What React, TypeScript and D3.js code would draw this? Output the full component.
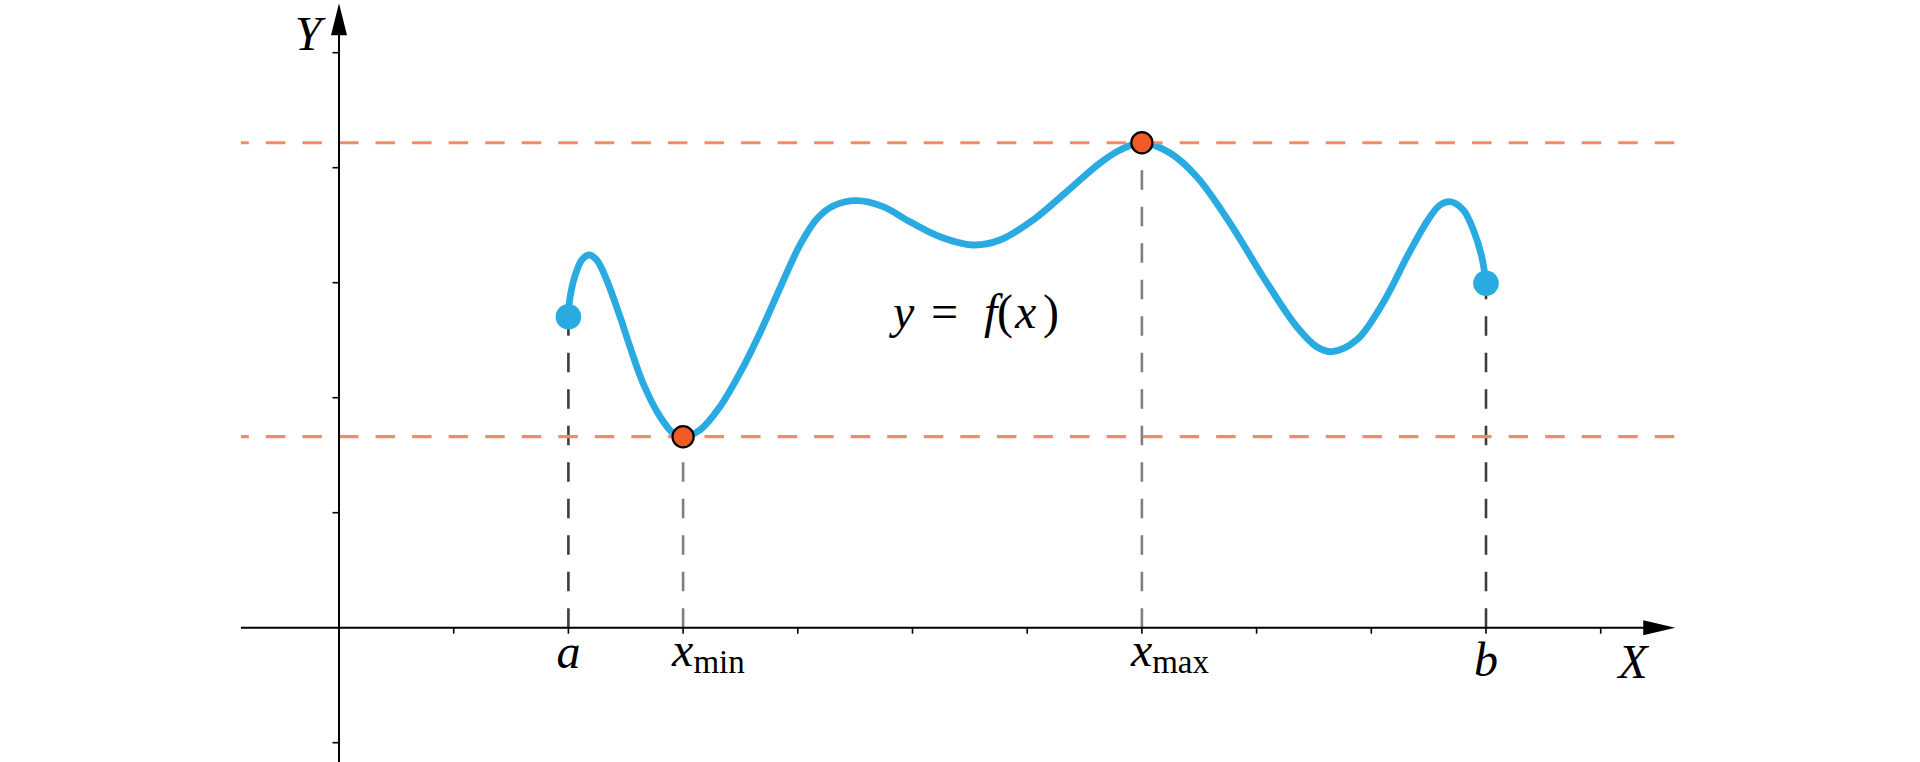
import React from 'react';
import * as d3 from 'd3';

// ---- data (in the chart's own units) ----
const curveX = [2.0, 2.011, 2.055, 2.116, 2.18, 2.247, 2.334, 2.45, 2.537, 2.65, 2.799, 2.912, 3.0, 3.147, 3.322, 3.496, 3.67, 3.845, 4.019, 4.165, 4.307, 4.514, 4.743, 4.978, 5.24, 5.527, 5.763, 6.051, 6.35, 6.635, 6.809, 7.0, 7.245, 7.478, 7.768, 8.056, 8.35, 8.524, 8.655, 8.873, 9.102, 9.32, 9.494, 9.599, 9.692, 9.802, 9.89, 9.963, 10.0];
const curveY = [2.704, 2.85, 3.052, 3.197, 3.241, 3.197, 3.023, 2.704, 2.443, 2.128, 1.835, 1.693, 1.661, 1.719, 1.922, 2.215, 2.563, 2.954, 3.328, 3.554, 3.667, 3.713, 3.661, 3.53, 3.4, 3.328, 3.371, 3.545, 3.797, 4.041, 4.154, 4.217, 4.128, 3.922, 3.519, 3.052, 2.617, 2.443, 2.4, 2.502, 2.823, 3.241, 3.545, 3.676, 3.704, 3.632, 3.458, 3.226, 2.995];

const endpointX = [2, 10];
const endpointY = [2.704, 2.995];
const endpointLabels = ['a', 'b'];

const extremaX = [3, 7];
const extremaY = [1.661, 4.217];
const extremaSubs = ['min', 'max'];

const xTicks = [1, 2, 3, 4, 5, 6, 7, 8, 9, 10, 11];
const yTicks = [-1, 1, 2, 3, 4, 5];
const xAxisExtent = [-0.855, 11.65];
const yAxisExtent = [-1.2, 5.43];
const axisNames = ['X', 'Y'];
const formulaParts = [
  { t: 'y', italic: true },
  { t: '=', italic: false },
  { t: 'f', italic: true },
  { t: '(', italic: false },
  { t: 'x', italic: true },
  { t: ')', italic: false },
];

// ---- styles / layout ----
const W = 1920;
const H = 762;
const BLUE = '#29abe2';
const ORANGE = '#f15a24';
const ORANGE_LINE = '#f58b66';
const FONT = '"Liberation Serif", "Times New Roman", serif';

export default function App() {
  const x = d3.scaleLinear().domain([0, 10]).range([339, 1486]);
  const y = d3.scaleLinear().domain([0, 5]).range([627.7, 52.7]);

  const pts: [number, number][] = curveX.map((v, i) => [v, curveY[i]]);
  const line = d3
    .line<[number, number]>()
    .x((d) => x(d[0]))
    .y((d) => y(d[1]))
    .curve(d3.curveCatmullRom.alpha(0.5));

  const x0 = x(xAxisExtent[0]);
  const x1 = x(xAxisExtent[1]);
  const yTop = y(yAxisExtent[1]);
  const y0 = y(0);
  const ox = x(0);

  const labelTop = 645;
  const arrowLen = 32;

  const formulaOffsets = [0, 38, 91, 104, 122, 150];

  return (
    <svg
      width={W}
      height={H}
      style={{ position: 'absolute', left: 0, top: 0, display: 'block', background: '#fff' }}
      fontFamily={FONT}
    >
      {/* vertical dashed lines for a, b */}
      {endpointX.map((v, i) => (
        <line
          key={'ev' + i}
          x1={x(v)}
          x2={x(v)}
          y1={y0}
          y2={y(endpointY[i])}
          stroke="#3d3d3d"
          strokeWidth={2.6}
          strokeDasharray="19.5 17"
        />
      ))}
      {/* vertical dashed lines for extrema */}
      {extremaX.map((v, i) => (
        <line
          key={'xv' + i}
          x1={x(v)}
          x2={x(v)}
          y1={y0}
          y2={y(extremaY[i])}
          stroke="#7f7f7f"
          strokeWidth={2.6}
          strokeDasharray="19.5 17"
        />
      ))}

      {/* curve */}
      <path d={line(pts) || ''} fill="none" stroke={BLUE} strokeWidth={6.8} strokeLinecap="round" strokeLinejoin="round" />

      {/* horizontal dashed lines */}
      {extremaY.map((v, i) => (
        <line
          key={'hl' + i}
          x1={x0}
          x2={x1}
          y1={y(v)}
          y2={y(v)}
          stroke={ORANGE_LINE}
          strokeWidth={3.2}
          strokeDasharray="19.5 17.05"
          strokeDashoffset={11.6}
        />
      ))}

      {/* axes */}
      <line x1={x0} x2={x1 - arrowLen + 2} y1={y0} y2={y0} stroke="#000" strokeWidth={2} />
      <path d={`M${x1},${y0} L${x1 - arrowLen},${y0 - 7.5} L${x1 - arrowLen},${y0 + 7.5} Z`} fill="#000" />
      <line x1={ox} x2={ox} y1={H} y2={yTop + arrowLen - 2} stroke="#000" strokeWidth={2} />
      <path d={`M${ox},${yTop} L${ox - 8},${yTop + arrowLen} L${ox + 8},${yTop + arrowLen} Z`} fill="#000" />

      {xTicks.map((t) => (
        <line key={'xt' + t} x1={x(t)} x2={x(t)} y1={y0} y2={y0 + 6} stroke="#000" strokeWidth={1.6} />
      ))}
      {yTicks.map((t) => (
        <line key={'yt' + t} x1={ox - 6.5} x2={ox} y1={y(t)} y2={y(t)} stroke="#000" strokeWidth={1.6} />
      ))}

      {/* endpoints */}
      {endpointX.map((v, i) => (
        <circle key={'ep' + i} cx={x(v)} cy={y(endpointY[i])} r={12.8} fill={BLUE} />
      ))}
      {/* extrema */}
      {extremaX.map((v, i) => (
        <circle key={'ex' + i} cx={x(v)} cy={y(extremaY[i])} r={10.6} fill={ORANGE} stroke="#000" strokeWidth={2.2} />
      ))}

      {/* tick labels */}
      {endpointX.map((v, i) => (
        <text
          key={'el' + i}
          x={x(v)}
          y={labelTop + (endpointLabels[i] === 'b' ? 31 : 23)}
          textAnchor="middle"
          fontStyle="italic"
          fontSize={48}
        >
          {endpointLabels[i]}
        </text>
      ))}
      {extremaX.map((v, i) => (
        <text key={'xl' + i} x={x(v) - 11} y={labelTop + 21} fontSize={48}>
          <tspan fontStyle="italic">x</tspan>
          <tspan fontSize={33} dy={7}>{extremaSubs[i]}</tspan>
        </text>
      ))}

      {/* axis names */}
      <text x={1633} y={678} textAnchor="middle" fontStyle="italic" fontSize={48}>
        {axisNames[0]}
      </text>
      <text x={308} y={50} textAnchor="middle" fontStyle="italic" fontSize={48}>
        {axisNames[1]}
      </text>

      {/* formula */}
      <text y={328} fontSize={48}>
        {formulaParts.map((p, i) => (
          <tspan key={'f' + i} x={893 + formulaOffsets[i]} fontStyle={p.italic ? 'italic' : 'normal'}>
            {p.t}
          </tspan>
        ))}
      </text>
    </svg>
  );
}
